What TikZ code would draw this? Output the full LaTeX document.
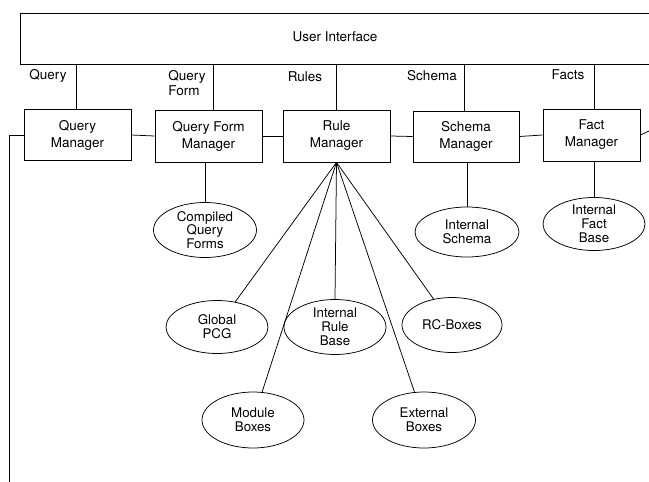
\documentclass[tikz,border=0pt]{standalone}
\usepackage{fontspec}
\setmainfont{TeX Gyre Heros}
\usetikzlibrary{shapes.geometric}
\begin{document}
\begin{tikzpicture}[x=1pt,y=-1pt,line width=0.75pt,
  mgr/.style={draw,rectangle,minimum width=107pt,minimum height=51pt,inner sep=0pt,align=center,font=\fontsize{13.5}{17}\selectfont},
  store/.style={draw,ellipse,minimum width=102pt,minimum height=54pt,inner sep=0pt,align=center,font=\fontsize{13.3}{13.8}\selectfont},
  lbl/.style={align=left,inner sep=0pt,font=\fontsize{13.5}{15}\selectfont}]
\useasboundingbox (0,0) rectangle (649,482);
% user interface (open on the right, cropped by the page)
\node[draw,rectangle,minimum width=640pt,minimum height=51pt,inner sep=0pt] (ui) at (340,38.5) {};
\node[font=\fontsize{13.5}{15}\selectfont,inner sep=0pt] (uit) at (335,37) {User Interface};
% managers
\node[mgr] (qm) at (77.5,135) {Query\\Manager};
\node[mgr,minimum height=52pt] (qfm) at (208.5,136) {Query Form\\Manager};
\node[mgr,minimum height=52pt] (rm) at (336.5,136) {Rule\\Manager};
\node[mgr,minimum width=106pt] (sm) at (466,136.5) {Schema\\Manager};
\node[mgr,minimum width=97pt,minimum height=52pt] (fm) at (591.5,135) {Fact\\Manager};
% labels
\node[lbl] (lq) at (48,76) {Query};
\node[lbl] (lqf) at (187,83) {Query\\Form};
\node[lbl] (lr) at (305,77) {Rules};
\node[lbl] (ls) at (432,76) {Schema};
\node[lbl] (lf) at (568,75) {Facts};
% stores
\node[store,minimum width=103pt,minimum height=55pt] (cqf) at (205,230) {Compiled\\Query\\Forms};
\node[store,minimum width=104pt,minimum height=50pt] (is) at (467,232) {Internal\\Schema};
\node[store,minimum height=51pt] (ifb) at (594,224) {Internal\\Fact\\Base};
\node[store,minimum height=53pt] (gpcg) at (217,327) {Global\\PCG};
\node[store,minimum height=55pt] (irb) at (335,327) {Internal\\Rule\\Base};
\node[store,minimum width=100pt,minimum height=55pt] (rcb) at (452,325) {RC-Boxes};
\node[store,minimum height=56pt] (mb) at (253,420) {Module\\Boxes};
\node[store,minimum width=103pt,minimum height=56pt] (eb) at (424,420) {External\\Boxes};
% free ends
\coordinate (lb) at (9,482);
\coordinate (re) at (649,131);
% connectors from the user interface
\draw (76,0 |- qm.north) -- (76,0 |- ui.south);
\draw (213,0 |- qfm.north) -- (213,0 |- ui.south);
\draw (rm.north) -- (rm.north |- ui.south);
\draw (464,0 |- sm.north) -- (464,0 |- ui.south);
\draw (594,0 |- fm.north) -- (594,0 |- ui.south);
% horizontal chain
\draw (qm.east) -- (qfm.west);
\draw (qfm.east) -- (rm.west -| rm.west);
\draw (rm.east) -- (sm.west);
\draw (sm.east) -- (fm.west);
\draw (fm.east) -- (re);
\draw (qm.west) -| (lb);
% managers to stores
\draw (qfm.south -| cqf.north) -- (cqf.north);
\draw (sm.south -| is.north) -- (is.north);
\draw (fm.south -| ifb.north) -- (ifb.north);
\draw (rm.south) -- (gpcg);
\draw (rm.south) -- (mb);
\draw (rm.south) -- (irb.north);
\draw (rm.south) -- (eb);
\draw (rm.south) -- (rcb);
\end{tikzpicture}
\end{document}
